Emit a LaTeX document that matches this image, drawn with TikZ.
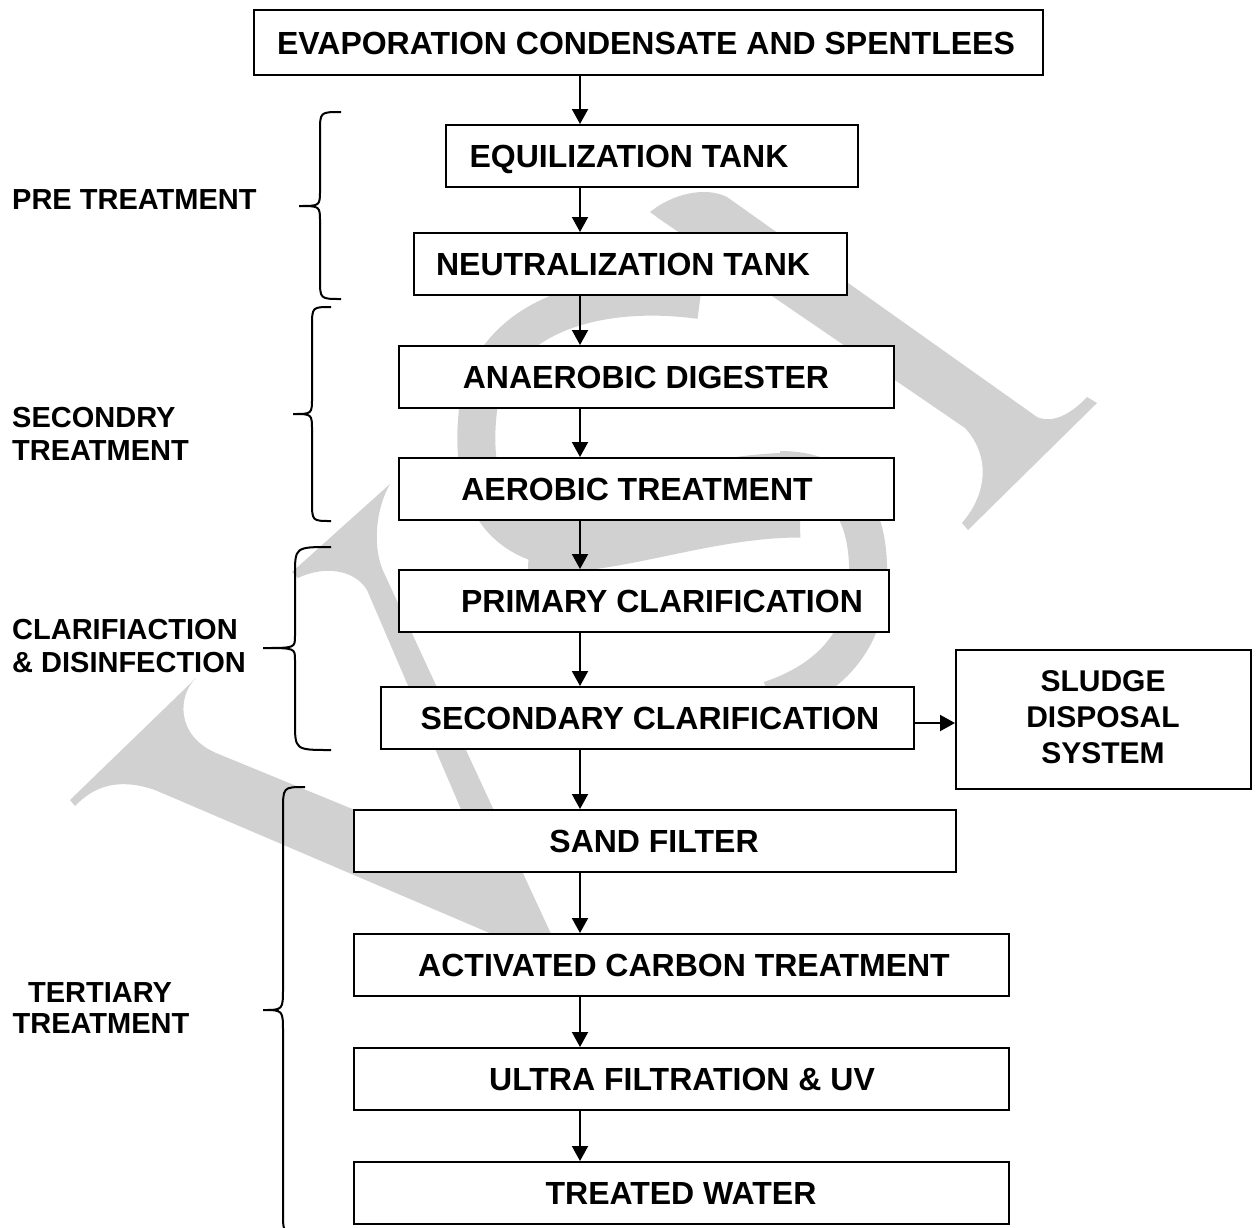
\documentclass[tikz,border=0pt]{standalone}
\usepackage{fontspec}
\setmainfont{Liberation Sans}
\usetikzlibrary{arrows.meta}
\definecolor{wm}{RGB}{209,209,209}
\newcommand\drawbrace[8]{%
  \draw[brc] (#1,#4) .. controls (#2,#4) .. (#2,{#4+#7}) -- (#2,{#5-#8})
    .. controls (#2,#5) .. (#3,#5) .. controls (#2,#5) .. (#2,{#5+#8})
    -- (#2,{#6-#7}) .. controls (#2,#6) .. (#1,#6);}
\begin{document}
\begin{tikzpicture}[x=1pt,y=-1pt,
  box/.style={draw, line width=2pt, fill=white, inner sep=0pt},
  btxt/.style={font=\fontsize{32}{36}\selectfont\bfseries, inner sep=0pt, text height=23pt, text depth=0pt},
  stxt/.style={font=\fontsize{30}{36}\selectfont\bfseries, inner sep=0pt, text height=21.5pt, text depth=0pt},
  ltxt/.style={font=\fontsize{29}{34}\selectfont\bfseries, inner sep=0pt, text height=20.8pt, text depth=0pt},
  arr/.style={line width=2pt, -{Triangle[width=16pt,length=15pt]}},
  brc/.style={line width=2pt}]
\useasboundingbox (0,0) rectangle (1257,1227);
\fill[white] (0,0) rectangle (1257,1227);
% watermark
\fill[wm] (70,800) -- (196,678) .. controls (178,695) and (175,735) .. (216,753)
  -- (484,863) -- (367,590) .. controls (355,570) and (325,565) .. (298,578)
  -- (292,572) -- (390,484) .. controls (375,510) and (372,550) .. (385,575)
  -- (577,990) -- (520,946) -- (155,790) .. controls (120,778) and (95,785) .. (75,806) -- cycle;
\fill[wm] (650,212) .. controls (672,194) and (705,186) .. (727,197) -- (1037,417)
  .. controls (1055,425) and (1075,410) .. (1087,397) -- (1097,403) -- (968,530) -- (962,523)
  .. controls (988,493) and (990,455) .. (965,428) -- (658,218) -- cycle;
\draw[wm, line width=38pt] (700,300) .. controls (590,285) and (490,320) .. (478,410)
  .. controls (470,480) and (490,530) .. (545,545);
\draw[wm, line width=85pt] (530,530) .. controls (610,535) and (700,495) .. (800,495);
\draw[wm, line width=38pt] (780,470) .. controls (850,470) and (870,520) .. (868,580)
  .. controls (866,640) and (830,680) .. (770,700);
% boxes
\node[box, minimum width=789pt, minimum height=65pt] (b1) at (648.5,42.5) {};
\node[box, minimum width=412pt, minimum height=62pt] (b2) at (652,156) {};
\node[box, minimum width=433pt, minimum height=62pt] (b3) at (630.5,264) {};
\node[box, minimum width=495pt, minimum height=62pt] (b4) at (646.5,377) {};
\node[box, minimum width=495pt, minimum height=62pt] (b5) at (646.5,489) {};
\node[box, minimum width=490pt, minimum height=62pt] (b6) at (644,601) {};
\node[box, minimum width=533pt, minimum height=62pt] (b7) at (647.5,718) {};
\node[box, minimum width=295pt, minimum height=139pt] (b8) at (1103.5,719.5) {};
\node[box, minimum width=602pt, minimum height=62pt] (b9) at (655,841) {};
\node[box, minimum width=655pt, minimum height=62pt] (b10) at (681.5,965) {};
\node[box, minimum width=655pt, minimum height=62pt] (b11) at (681.5,1079) {};
\node[box, minimum width=655pt, minimum height=62pt] (b12) at (681.5,1193) {};
% box texts
\node[btxt] (t1) at (646,42.5) {EVAPORATION CONDENSATE AND SPENTLEES};
\node[btxt] (t2) at (629,156) {EQUILIZATION TANK};
\node[btxt] (t3) at (623,264) {NEUTRALIZATION TANK};
\node[btxt] (t4) at (646,377) {ANAEROBIC DIGESTER};
\node[btxt] (t5) at (637,489) {AEROBIC TREATMENT};
\node[btxt] (t6) at (662,601) {PRIMARY CLARIFICATION};
\node[btxt] (t7) at (650,718) {SECONDARY CLARIFICATION};
\node[stxt] (t8a) at (1103,681) {SLUDGE};
\node[stxt] (t8b) at (1103,717) {DISPOSAL};
\node[stxt] (t8c) at (1103,753) {SYSTEM};
\node[btxt] (t9) at (654,841) {SAND FILTER};
\node[btxt] (t10) at (684,965) {ACTIVATED CARBON TREATMENT};
\node[btxt] (t11) at (682,1079) {ULTRA FILTRATION \& UV};
\node[btxt] (t12) at (681,1193) {TREATED WATER};
% side labels
\node[ltxt, anchor=west] (l1) at (12,199) {PRE TREATMENT};
\node[ltxt, anchor=west] (l2a) at (12,417) {SECONDRY};
\node[ltxt, anchor=west] (l2b) at (12,450) {TREATMENT};
\node[ltxt, anchor=west] (l3a) at (12,629) {CLARIFIACTION};
\node[ltxt, anchor=west] (l3b) at (12,662) {\& DISINFECTION};
\node[ltxt] (l4a) at (100,992) {TERTIARY};
\node[ltxt] (l4b) at (101,1023) {TREATMENT};
% arrows
\coordinate (ax) at (580,0);
\draw[arr] (b1.south -| ax) -- (b2.north -| ax);
\draw[arr] (b2.south -| ax) -- (b3.north -| ax);
\draw[arr] (b3.south -| ax) -- (b4.north -| ax);
\draw[arr] (b4.south -| ax) -- (b5.north -| ax);
\draw[arr] (b5.south -| ax) -- (b6.north -| ax);
\draw[arr] (b6.south -| ax) -- (b7.north -| ax);
\draw[arr] (b7.south -| ax) -- (b9.north -| ax);
\draw[arr] (b9.south -| ax) -- (b10.north -| ax);
\draw[arr] (b10.south -| ax) -- (b11.north -| ax);
\draw[arr] (b11.south -| ax) -- (b12.north -| ax);
\coordinate (sy) at (0,723);
\draw[arr] (b7.east |- sy) -- (b8.west |- sy);
% braces
\drawbrace{341}{320}{299}{112}{206}{299}{20}{16}
\drawbrace{331}{312}{293}{307}{414}{521}{20}{16}
\drawbrace{331}{295}{263}{547}{648}{750}{28}{12}
\drawbrace{305}{283}{263}{787}{1010}{1235}{24}{22}
\end{tikzpicture}
\end{document}
